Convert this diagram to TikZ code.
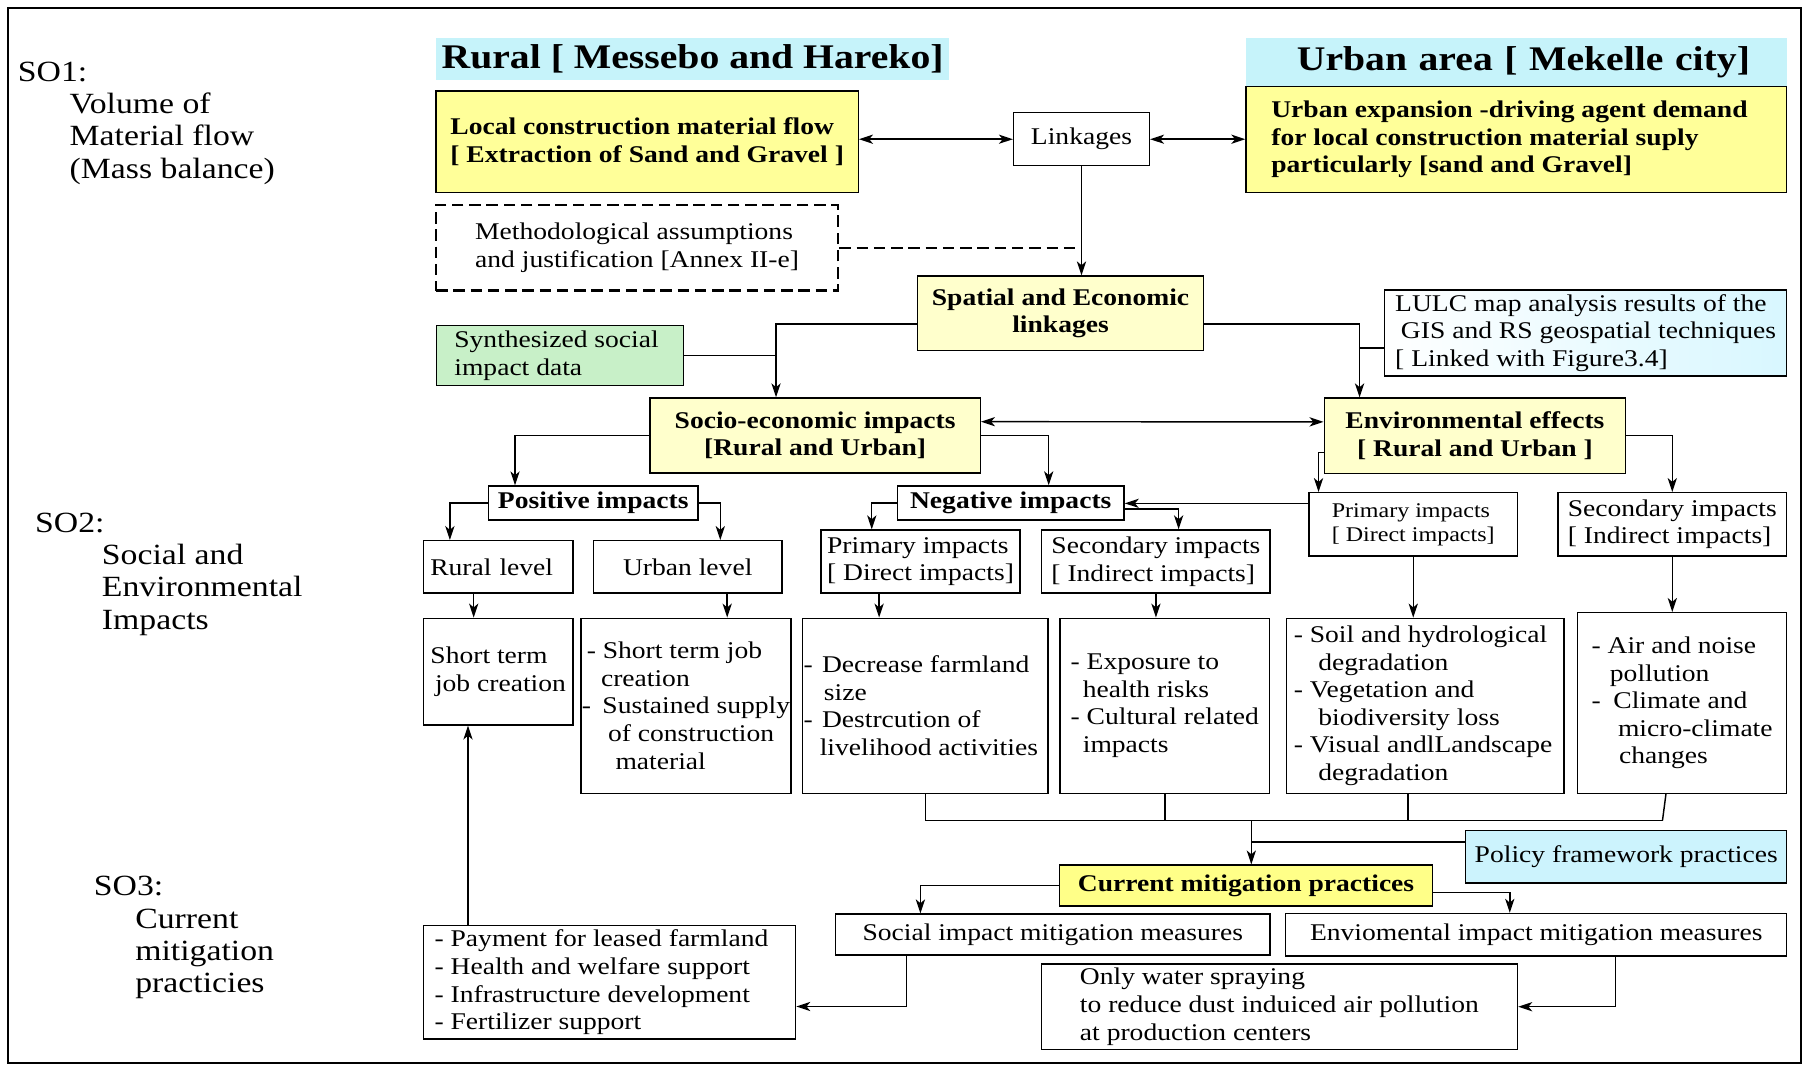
\documentclass[tikz,border=0pt]{standalone}
\usepackage{fontspec}
\setmainfont{Liberation Serif}[FakeStretch=1.15]
\usetikzlibrary{arrows.meta,calc}
\newlength\pxu \setlength\pxu{0.6pt}
\newcommand\fnorm{\fontsize{12.5}{14.4}\selectfont}
\newcommand\fsmall{\fontsize{10.9}{12.6}\selectfont}
\newcommand\fhead{\fontsize{18}{21}\selectfont\bfseries}
\newcommand\flab{\fontsize{15.3}{16.8}\selectfont}
\definecolor{cyanH}{HTML}{C6F3FA}
\definecolor{yelB}{HTML}{FFFF99}
\definecolor{yelP}{HTML}{FFFFCC}
\definecolor{yelC}{HTML}{FFFF88}
\definecolor{grnB}{HTML}{C8F0C8}
\definecolor{cyaP}{HTML}{CCF3FD}
\definecolor{lulcR}{HTML}{D8F7FF}
\newcommand\bx[7]{\node[#6,minimum width={(#4-#2)*0.6pt},minimum height={(#5-#3)*0.6pt}] (#1) at ({(#2+#4)/2},{(#3+#5)/2}) {#7};}
\begin{document}
\begin{tikzpicture}[x=0.6pt,y=-0.6pt,line width=0.75pt,
  bxs/.style={draw,inner sep=0pt,font=\fnorm},
  bld/.style={font=\fnorm\bfseries},
  yel/.style={fill=yelB}, pyel/.style={fill=yelP}, cmpf/.style={fill=yelC},
  grnf/.style={fill=grnB}, cyaf/.style={fill=cyaP},
  lulcf/.style={left color=white,right color=lulcR},
  hdr/.style={fill=cyanH,inner sep=0pt,font=\fhead},
  dsh/.style={draw,line width=1.3pt,dash pattern=on 6pt off 3pt,inner sep=0pt,font=\fnorm},
  dshl/.style={line width=1.3pt,dash pattern=on 6pt off 3pt},
  lab/.style={font=\flab,align=left,inner sep=0pt,anchor=west},
  arr/.style={-{Stealth[length=7.3pt,width=4.8pt,inset=2pt]}},
  arr2/.style={{Stealth[length=7.3pt,width=4.8pt,inset=2pt]}-{Stealth[length=7.3pt,width=4.8pt,inset=2pt]}}]
\useasboundingbox (0,0) rectangle (1568,927);
\draw[line width=1pt] (7,7) rectangle (1565,924);

% left labels
\node[lab] (so1) at (15,107) {SO1:\\\hspace*{45\pxu}Volume of\\\hspace*{45\pxu}Material flow\\\hspace*{45\pxu}(Mass balance)};
\node[lab] (so2) at (30,499) {SO2:\\\hspace*{58\pxu}Social and\\\hspace*{58\pxu}Environmental\\\hspace*{58\pxu}Impacts};
\node[lab] (so3) at (81,815) {SO3:\\\hspace*{36\pxu}Current\\\hspace*{36\pxu}mitigation\\\hspace*{36\pxu}practicies};

% headers
\bx{rurh}{379}{33}{825}{69.5}{hdr}{Rural [ Messebo and Hareko]}
\bx{urbh}{1083}{33}{1553}{75}{hdr,align=right,text width=406\pxu}{Urban area [ Mekelle city]}

% boxes
\bx{loc}{379}{79}{746}{167.5}{bxs,yel,bld,align=left}{Local construction material flow\hspace*{4\pxu}\\{}[ Extraction of Sand and Gravel ]}
\bx{lnk}{881}{98}{999}{144}{bxs}{Linkages}
\bx{urb}{1083}{75}{1553}{167.5}{bxs,yel,bld,align=left}{Urban expansion -driving agent demand\hspace*{12\pxu}\\for local construction material suply\\particularly [sand and Gravel]}
\bx{meth}{379}{178}{728.5}{252.7}{dsh,align=left}{Methodological assumptions\\and justification [Annex II-e]}
\bx{spat}{797.6}{240}{1046}{304.8}{bxs,pyel,bld,align=center}{Spatial and Economic\\linkages}
\bx{lulc}{1203.4}{252}{1553}{326.8}{bxs,lulcf,align=left}{LULC map analysis results of the\\\hspace*{5\pxu}GIS and RS geospatial techniques\hspace*{6\pxu}\\{}[ Linked with Figure3.4]}
\bx{syn}{379.5}{283}{594}{335}{bxs,grnf,align=left}{Synthesized social\hspace*{6\pxu}\\impact data}
\bx{soc}{565}{346}{852}{411}{bxs,pyel,bld,align=center}{Socio-economic impacts\\{}[Rural and Urban]}
\bx{env}{1151}{346}{1413}{411.4}{bxs,pyel,bld,align=center}{Environmental effects\\{}[ Rural and Urban ]}
\bx{pos}{424.5}{422.5}{606.8}{452}{bxs,bld}{Positive impacts}
\bx{neg}{780}{422.4}{977}{452}{bxs,bld}{Negative impacts}
\bx{eprim}{1137.7}{428.3}{1319}{483.3}{bxs,font=\fsmall,align=left}{Primary impacts\\{}[ Direct impacts]}
\bx{esec}{1354}{428.3}{1553}{483.3}{bxs,align=left}{Secondary impacts\\{}[ Indirect impacts]}
\bx{rurl}{368}{470}{498}{515.6}{bxs,align=left,text width=118\pxu}{Rural level}
\bx{urbl}{516}{470}{679.5}{515.6}{bxs}{Urban level}
\bx{nprim}{713.6}{460.7}{886.6}{515.5}{bxs,align=left}{Primary impacts\\{}[ Direct impacts]}
\bx{nsec}{905.4}{460.7}{1104}{515.5}{bxs,align=left}{Secondary impacts\\{}[ Indirect impacts]}
\bx{stj}{368}{537.4}{498}{630}{bxs,align=left}{Short term\\\hspace*{4\pxu}job creation}
\bx{sus}{504.8}{537.4}{687.6}{689.5}{bxs,align=left}{\hspace*{4.3\pxu}- Short term job\\\hspace*{16.7\pxu}creation\\-\hspace{10\pxu}Sustained supply\\\hspace*{22.8\pxu}of construction\\\hspace*{29.3\pxu}material}
\bx{dec}{697.7}{537.4}{911}{689.5}{bxs,align=left}{-\hspace{8\pxu}Decrease farmland\\\hspace*{17.6\pxu}size\\-\hspace{8\pxu}Destrcution of\\\hspace*{14\pxu}livelihood activities\hspace*{8\pxu}}
\bx{expo}{921.2}{537.4}{1103.6}{689.5}{bxs,align=left}{-\hspace{6\pxu}Exposure to\\\hspace*{10.6\pxu}health risks\\-\hspace{6\pxu}Cultural related\hspace*{10\pxu}\\\hspace*{10.6\pxu}impacts}
\bx{soil}{1118}{537.4}{1359.3}{689.5}{bxs,align=left}{- Soil and hydrological\hspace*{8\pxu}\\\hspace*{21.3\pxu}degradation\\- Vegetation and\\\hspace*{21.3\pxu}biodiversity loss\\- Visual andlLandscape\\\hspace*{21.3\pxu}degradation}
\bx{air}{1371}{532.5}{1553}{689.5}{bxs,align=left}{- Air and noise\\\hspace*{16\pxu}pollution\\-\hspace{11\pxu}Climate and\\\hspace*{23\pxu}micro-climate\hspace*{12\pxu}\\\hspace*{24\pxu}changes}
\bx{pol}{1274}{722}{1553}{767.5}{bxs,cyaf}{Policy framework practices}
\bx{cmp}{921}{752}{1245}{787.5}{bxs,cmpf,bld}{Current mitigation practices}
\bx{smit}{726}{794.5}{1104}{830}{bxs}{Social impact mitigation measures}
\bx{emit}{1117.5}{794}{1553}{831}{bxs}{Enviomental impact mitigation measures}
\bx{pay}{368}{804.6}{691.5}{903}{bxs,align=left}{- Payment for leased farmland\hspace*{14\pxu}\\- Health and welfare support\\- Infrastructure development\\- Fertilizer support}
\bx{wat}{905}{838}{1319}{912}{bxs,align=left}{Only water spraying\\to reduce dust induiced air pollution\hspace*{14\pxu}\\at production centers}

% connectors
\draw[arr2] (lnk.west -| loc.east) -- (lnk.west);
\draw[arr2] (lnk.east) -- (lnk.east -| urb.west);
\draw[arr] (lnk.south) -- (lnk.south |- spat.north);
\draw[dshl] (meth.east) -- (meth.east -| lnk.south);

\coordinate (sL) at ($(soc.north)+(-34,0)$);
\draw[arr] ($(spat.west)+(0,9.2)$) -| (sL);
\draw (syn.east) -- (syn.east -| sL);
\coordinate (eL) at ($(env.north)+(-100.3,0)$);
\draw[arr] ($(spat.east)+(0,9.2)$) -| (eL);
\coordinate (lw) at ($(lulc.west)+(0,13)$);
\draw (lw) -- (lw -| eL);

\draw[arr2] ($(soc.east)+(0,-12)$) -- ($(env.west)+(0,-12)$);
\draw[arr] (soc.west) -| ($(pos.north)+(-68,0)$);
\draw[arr] (soc.east) -| ($(neg.north)+(33,0)$);
\draw[arr] (pos.west) -| ($(rurl.north)+(-42,0)$);
\draw[arr] (pos.east) -| ($(urbl.north)+(28.3,0)$);
\coordinate (a1) at ($(rurl.south)+(-21.3,0)$);
\draw[arr] (a1) -- (a1 |- stj.north);
\coordinate (a2) at ($(urbl.south)+(34.3,0)$);
\draw[arr] (a2) -- (a2 |- sus.north);

\draw[arr] (neg.west) -| ($(nprim.north)+(-42.4,0)$);
\coordinate (ne) at ($(neg.east)+(0,5.3)$);
\draw[arr] (ne) -| ($(nsec.north)+(19.7,0)$);
\coordinate (ep) at ($(eprim.west)+(0,-18.3)$);
\draw[arr] (ep) -- (ep -| neg.east);
\coordinate (ew) at ($(env.west)+(0,14.8)$);
\draw[arr] (ew) -| ($(eprim.north)+(-82.3,0)$);
\draw[arr] (env.east) -| (esec.north);

\coordinate (a3) at ($(nprim.south)+(-36,0)$);
\draw[arr] (a3) -- (a3 |- dec.north);
\draw[arr] (nsec.south) -- (nsec.south |- expo.north);
\draw[arr] (eprim.south) -- (eprim.south |- soil.north);
\draw[arr] (esec.south) -- (esec.south |- air.north);

\coordinate (bus) at (0,713);
\coordinate (airb) at (1445,713);
\draw (dec.south) |- (airb);
\draw (expo.south) -- (expo.south |- bus);
\coordinate (sb) at ($(soil.south)+(-15,0)$);
\draw (sb) -- (sb |- bus);
\draw ($(air.south)+(-14,0)$) -- (airb);
\coordinate (cm) at ($(cmp.north)+(4.6,0)$);
\draw[arr] (cm |- bus) -- (cm);
\coordinate (pw) at ($(pol.west)+(0,-13)$);
\draw (pw) -- (pw -| cm);

\draw[arr] (cmp.west) -| ($(smit.north)+(-115,0)$);
\coordinate (ce) at ($(cmp.east)+(0,6.2)$);
\draw[arr] (ce) -| ($(emit.north)+(-23,0)$);
\coordinate (s1) at ($(smit.south)+(-127,0)$);
\coordinate (p1) at ($(pay.east)+(0,21)$);
\draw[arr] (s1) |- (p1);
\coordinate (e1) at ($(emit.south)+(69,0)$);
\draw[arr] (e1) |- (wat.east);
\coordinate (p2) at ($(pay.north)+(-123,0)$);
\draw[arr] (p2) -- (p2 |- stj.south);
\end{tikzpicture}
\end{document}
